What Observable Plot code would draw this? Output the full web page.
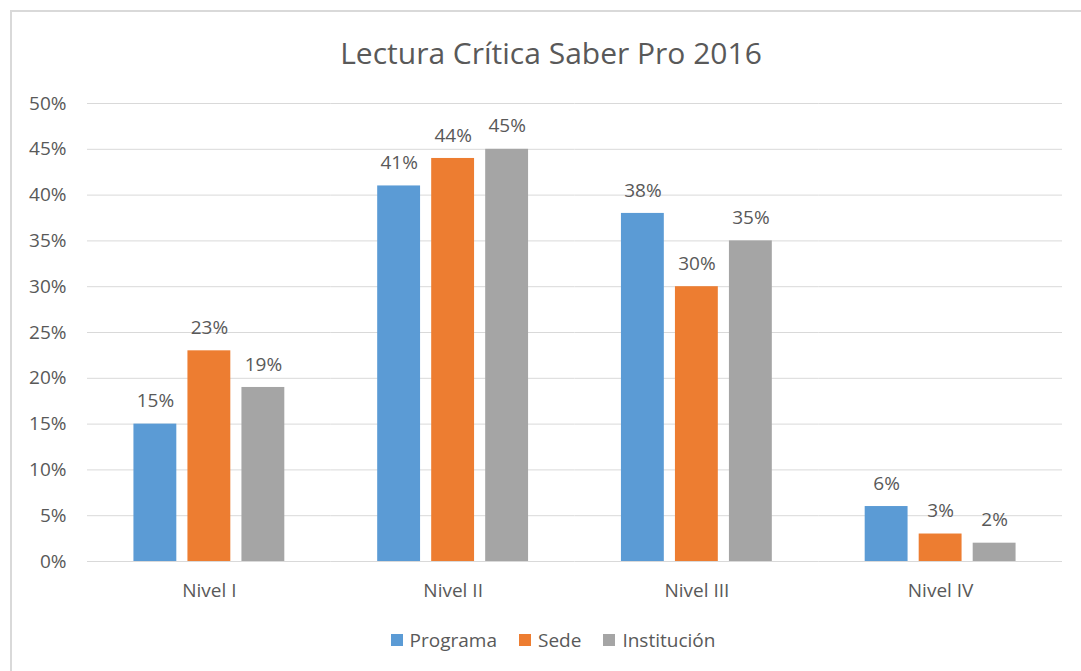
<!DOCTYPE html>
<html>
<head>
<meta charset="utf-8">
<script src="https://cdn.jsdelivr.net/npm/d3@7"></script>
<script src="https://cdn.jsdelivr.net/npm/@observablehq/plot@0.6"></script>
<style>
  html, body { margin: 0; padding: 0; background: #fff; overflow: hidden; width: 1081px; height: 671px; }
  body { position: relative; font-family: "Open Sans", sans-serif; color: #595959; }
  #frame { position: absolute; left: 10px; top: 10px; width: 1100px; height: 700px; border: 2px solid #D9D9D9; box-sizing: border-box; }
  #title { position: absolute; left: 0; top: 36px; width: 1102px; text-align: center; font-size: 30px; line-height: 34px; color: #595959; }
  #chart { position: absolute; left: 0; top: 80px; }
  #legend { position: absolute; left: 0; top: 627px; width: 1106px; display: flex; justify-content: center; gap: 22px; font-size: 19px; line-height: 26px; color: #595959; }
  .item { display: flex; align-items: center; gap: 7px; }
  .sw { width: 12px; height: 12px; display: inline-block; }
</style>
</head>
<body>
<div id="frame"></div>
<div id="title">Lectura Crítica Saber Pro 2016</div>
<div id="chart"></div>
<div id="legend"></div>
<script>
const niveles = ["Nivel I", "Nivel II", "Nivel III", "Nivel IV"];
const series = ["Programa", "Sede", "Institución"];
const colores = ["#5B9BD5", "#ED7D31", "#A5A5A5"];
const programa = [15, 41, 38, 6];
const sede = [23, 44, 30, 3];
const institucion = [19, 45, 35, 2];
const yTicks = [0, 5, 10, 15, 20, 25, 30, 35, 40, 45, 50];

const valores = [programa, sede, institucion];
const data = [];
niveles.forEach((n, i) => {
  series.forEach((s, j) => data.push({nivel: n, serie: s, value: valores[j][i]}));
});

const chart = Plot.plot({
  width: 1081,
  height: 531,
  marginLeft: 87,
  marginRight: 19,
  marginTop: 23,
  marginBottom: 50,
  style: {fontFamily: "Open Sans, sans-serif", fontSize: "19px", color: "#595959", background: "transparent"},
  fx: {domain: niveles, padding: 0, round: false, label: null, tickSize: 0, tickPadding: 22, axis: "bottom"},
  x: {domain: series, paddingInner: 0.206, paddingOuter: 0.86, round: false, axis: null},
  y: {domain: [0, 50], ticks: yTicks, tickFormat: d => d + "%", label: null, tickSize: 0, tickPadding: 21},
  color: {domain: series, range: colores},
  marks: [
    Plot.gridY(yTicks, {stroke: "#D9D9D9", strokeOpacity: 1, strokeWidth: 1}),
    Plot.barY(data, {fx: "nivel", x: "serie", y: "value", fill: "serie"}),
    Plot.text(data, {fx: "nivel", x: "serie", y: "value", text: d => d.value + "%", dy: -23, fill: "#595959", fontSize: 19})
  ]
});
document.getElementById("chart").appendChild(chart);

const legend = document.getElementById("legend");
series.forEach((s, i) => {
  const it = document.createElement("div");
  it.className = "item";
  const sw = document.createElement("span");
  sw.className = "sw";
  sw.style.background = colores[i];
  const t = document.createElement("span");
  t.textContent = s;
  it.appendChild(sw);
  it.appendChild(t);
  legend.appendChild(it);
});
</script>
</body>
</html>
